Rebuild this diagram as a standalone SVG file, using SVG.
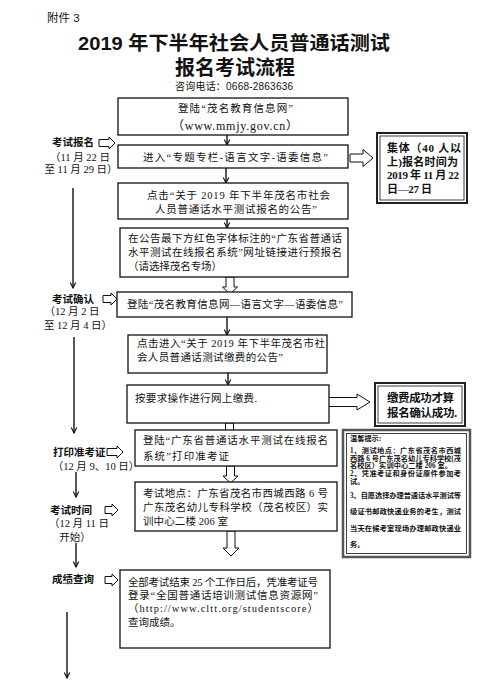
<svg xmlns="http://www.w3.org/2000/svg" width="482" height="689" viewBox="0 0 482 689">
<style>
.b{font-family:"Liberation Serif","Noto Sans CJK SC",serif;font-size:10.5px;fill:#111}
.lb{font-family:"Liberation Sans","Noto Sans CJK SC",sans-serif;font-weight:bold;font-size:10.5px;fill:#111}
.d{font-family:"Liberation Serif","Noto Sans CJK SC",serif;font-size:10.5px;fill:#111;text-anchor:middle}
.rb{font-family:"Liberation Serif","Noto Sans CJK SC",serif;font-weight:bold;font-size:11px;fill:#111}
.t{font-family:"Liberation Serif","Noto Sans CJK SC",serif;font-weight:bold;font-size:7.2px;fill:#111}
.box{fill:#fff;stroke:#111;stroke-width:1.3}
.in{fill:none;stroke:#111;stroke-width:0.8}
.ha{fill:#fff;stroke:#111;stroke-width:1}
.ln{fill:none;stroke:#111;stroke-width:1.4}
</style>
<defs>
<marker id="ah" viewBox="0 0 10 10" refX="9" refY="5" markerWidth="7" markerHeight="7" orient="auto" markerUnits="userSpaceOnUse">
<path d="M1,1 L9,5 L1,9" fill="none" stroke="#111" stroke-width="1.6"/>
</marker>
</defs>
<rect width="482" height="689" fill="#fff"/>
<g id="header">
<text x="47" y="22" style="font-family:'Liberation Sans','Noto Sans CJK SC',sans-serif;font-size:11.5px;fill:#111">附件 3</text>
<text x="78" y="50" textLength="312" lengthAdjust="spacingAndGlyphs" style="font-family:'Liberation Sans','Noto Sans CJK SC',sans-serif;font-weight:bold;font-size:19px;fill:#111">2019 年下半年社会人员普通话测试</text>
<text x="175" y="75" textLength="120" style="font-family:'Liberation Sans','Noto Sans CJK SC',sans-serif;font-weight:bold;font-size:20px;fill:#111">报名考试流程</text>
<text x="175" y="90" textLength="118" style="font-family:'Liberation Sans','Noto Sans CJK SC',sans-serif;font-size:10px;fill:#111">咨询电话：0668-2863636</text>
</g>
<g id="connectors">
<line class="ln" x1="227" y1="135" x2="227" y2="145" marker-end="url(#ah)"/>
<line class="ln" x1="226" y1="168" x2="226" y2="183" marker-end="url(#ah)"/>
<line class="ln" x1="227" y1="219" x2="227" y2="228" marker-end="url(#ah)"/>
<line class="ln" x1="227" y1="317" x2="227" y2="335" marker-end="url(#ah)"/>
<line class="ln" x1="228" y1="373" x2="228" y2="385" marker-end="url(#ah)"/>
<polygon class="ha" points="226,277 234,277 234,287 237.5,287 230,294 222.5,287 226,287"/>
<polygon class="ha" points="225.5,423 233.5,423 233.5,434 237,434 229.5,441 222,434 225.5,434"/>
<polygon class="ha" points="226.5,466 234.5,466 234.5,476 238,476 230.5,483 223,476 226.5,476"/>
<polygon class="ha" points="227,531 235,531 235,548 239,548 231,556 223,548 227,548"/>
<polygon class="ha" points="350,154 363,154 363,149.5 373,158 363,166.5 363,162 350,162"/>
<polygon class="ha" points="325,397.5 357,397.5 357,394 370,402 357,410 357,406.5 325,406.5"/>
<polygon class="ha" points="99,139.5 109,139.5 109,137 115,143 109,149 109,146.5 99,146.5"/>
<polygon class="ha" points="103,295.5 111,295.5 111,293 117,299 111,305 111,302.5 103,302.5"/>
<polygon class="ha" points="107,448.5 117,448.5 117,446 123,452 117,458 117,455.5 107,455.5"/>
<polygon class="ha" points="105,506.5 112,506.5 112,504 118,510 112,516 112,513.5 105,513.5"/>
<polygon class="ha" points="105,576.5 112,576.5 112,574 118,580 112,586 112,583.5 105,583.5"/>
<line class="ln" x1="73" y1="188" x2="73" y2="288" marker-end="url(#ah)"/>
<line class="ln" x1="74" y1="337" x2="74" y2="433" marker-end="url(#ah)"/>
<line class="ln" x1="76" y1="472" x2="76" y2="497" marker-end="url(#ah)"/>
<line class="ln" x1="76" y1="543" x2="76" y2="567" marker-end="url(#ah)"/>
<line class="ln" x1="67" y1="612" x2="67" y2="678" marker-end="url(#ah)"/>
</g>
<g id="label-baoming">
<text class="lb" x="52" y="146">考试报名</text>
<text class="d" x="80" y="161">（11 月 22 日</text>
<text class="d" x="81" y="173">至 11 月 29 日）</text>
</g>
<g id="label-queren">
<text class="lb" x="52" y="303">考试确认</text>
<text class="d" x="72" y="315">（12 月 2 日</text>
<text class="d" x="78" y="329">至 12 月 4 日）</text>
</g>
<g id="label-dayin">
<text class="lb" x="53" y="456">打印准考证</text>
<text class="d" x="96" y="470">（12 月 9、10 日）</text>
</g>
<g id="label-shijian">
<text class="lb" x="50" y="514">考试时间</text>
<text class="d" x="79" y="527">（12 月 11 日</text>
<text class="d" x="75" y="541">开始）</text>
</g>
<g id="label-chengji">
<text class="lb" x="52" y="583">成绩查询</text>
</g>
<g id="box1">
<rect class="box" x="118" y="98" width="230" height="37"/>
<text class="b" x="178" y="112" textLength="115">登陆“茂名教育信息网”</text>
<text class="b" x="172" y="130" textLength="126" style="font-size:12px">（www.mmjy.gov.cn）</text>
</g>
<g id="box2">
<rect class="box" x="118" y="145" width="230" height="23"/>
<text class="b" x="143" y="161" textLength="185">进入“专题专栏-语言文字-语委信息”</text>
</g>
<g id="box3">
<rect class="box" x="118" y="183" width="230" height="36"/>
<text class="b" x="147" y="199" textLength="183">点击“关于 2019 年下半年茂名市社会</text>
<text class="b" x="155" y="213" textLength="162">人员普通话水平测试报名的公告”</text>
</g>
<g id="box4">
<rect class="box" x="120" y="228" width="228" height="49"/>
<text class="b" x="128" y="242" textLength="214">在公告最下方红色字体标注的“广东省普通话</text>
<text class="b" x="128" y="256" textLength="214">水平测试在线报名系统”网址链接进行预报名</text>
<text class="b" x="128" y="270" textLength="94">（请选择茂名专场）</text>
</g>
<g id="box5">
<rect class="box" x="117" y="292" width="235" height="25"/>
<text class="b" x="127" y="308" textLength="216">登陆“茂名教育信息网—语言文字—语委信息”</text>
</g>
<g id="box6">
<rect class="box" x="128" y="335" width="199" height="38"/>
<text class="b" x="137" y="347" textLength="188">点击进入“关于 2019 年下半年茂名市社</text>
<text class="b" x="137" y="361" textLength="146">会人员普通话测试缴费的公告”</text>
</g>
<g id="box7">
<rect class="box" x="127" y="385" width="202" height="38"/>
<text class="b" x="135" y="402" textLength="122">按要求操作进行网上缴费.</text>
</g>
<g id="box8">
<rect class="box" x="135" y="430" width="202" height="36"/>
<text class="b" x="143" y="444" textLength="185">登陆“广东省普通话水平测试在线报名</text>
<text class="b" x="143" y="460" textLength="86">系统”打印准考证</text>
</g>
<g id="box9">
<rect class="box" x="135" y="482" width="202" height="49"/>
<text class="b" x="143" y="497" textLength="185">考试地点：广东省茂名市西城西路 6 号</text>
<text class="b" x="143" y="511" textLength="185">广东茂名幼儿专科学校（茂名校区）实</text>
<text class="b" x="143" y="525" textLength="85">训中心二楼 206 室</text>
</g>
<g id="box10">
<rect class="box" x="120" y="570" width="210" height="78"/>
<text class="b" x="128" y="586" textLength="190">全部考试结束 25 个工作日后，凭准考证号</text>
<text class="b" x="128" y="599" textLength="190">登录“全国普通话培训测试信息资源网”</text>
<text class="b" x="128" y="612" textLength="190">（http://www.cltt.org/studentscore）</text>
<text class="b" x="128" y="626">查询成绩。</text>
</g>
<g id="note-jiti">
<rect x="377" y="133" width="90" height="70" fill="#fff" stroke="#222" stroke-width="2"/>
<rect class="in" x="380" y="136" width="84" height="64"/>
<text class="rb" x="387" y="152" textLength="74">集体（40 人以</text>
<text class="rb" x="387" y="166" textLength="71">上)报名时间为</text>
<text class="rb" x="387" y="179" textLength="72">2019 年 11 月 22</text>
<text class="rb" x="387" y="193" textLength="45">日—27 日</text>
</g>
<g id="note-jiaofei">
<rect x="375" y="383" width="90" height="43" fill="#fff" stroke="#222" stroke-width="2"/>
<rect class="in" x="378" y="386" width="84" height="37"/>
<text class="rb" x="387" y="402" textLength="67" style="font-size:11.5px">缴费成功才算</text>
<text class="rb" x="387" y="417" textLength="70" style="font-size:11.5px">报名确认成功.</text>
</g>
<g id="note-tips">
<rect x="343" y="430" width="127" height="127" fill="#fff" stroke="#555" stroke-width="2.5"/>
<rect class="in" x="346.5" y="433.5" width="120" height="120"/>
<text class="t" x="350" y="441">温馨提示:</text>
<text class="t" x="350" y="453" textLength="111">1、测试地点：广东省茂名市西城</text>
<text class="t" x="350" y="460.5" textLength="111">西路 6 号广东茂名幼儿专科学校(茂</text>
<text class="t" x="350" y="468" textLength="102">名校区）实训中心二楼 206 室。</text>
<text class="t" x="350" y="476" textLength="111">2、凭准考证和身份证原件参加考</text>
<text class="t" x="350" y="484">试。</text>
<text class="t" x="350" y="498" textLength="111">3、自愿选择办理普通话水平测试等</text>
<text class="t" x="350" y="514" textLength="111">级证书邮政快递业务的考生，测试</text>
<text class="t" x="350" y="531" textLength="111">当天在候考室现场办理邮政快递业</text>
<text class="t" x="350" y="547">务。</text>
</g>
</svg>
